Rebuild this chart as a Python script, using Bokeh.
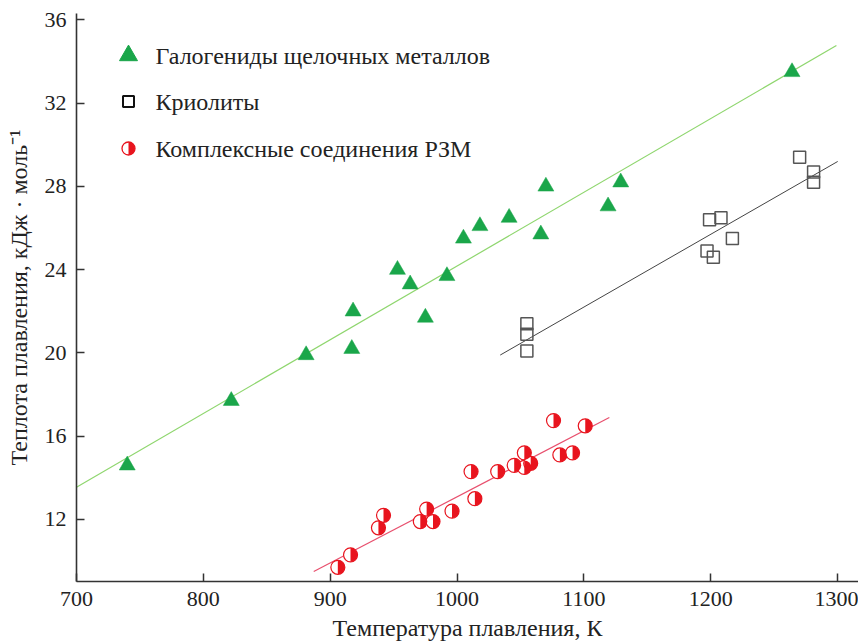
import math
from bokeh.plotting import figure
from bokeh.models import Range1d, FixedTicker
from bokeh.core.properties import value
from bokeh.embed import file_html
from bokeh.resources import INLINE

# ---- data ----
hal_x = [740, 822, 881, 917, 918, 953, 963, 975, 992, 1005, 1018, 1041, 1066, 1070, 1119, 1129, 1264]
hal_y = [14.6, 17.7, 19.9, 20.2, 22.0, 24.0, 23.3, 21.7, 23.7, 25.5, 26.1, 26.5, 25.7, 28.0, 27.05, 28.2, 33.5]

cry_x = [1055, 1055, 1055, 1197, 1199, 1202, 1208, 1217, 1270, 1281, 1281]
cry_y = [21.4, 20.9, 20.1, 24.9, 26.4, 24.6, 26.5, 25.5, 29.4, 28.7, 28.2]

ree_x = [906, 916, 938, 942, 971, 976, 981, 996, 1011, 1014, 1032, 1045, 1053, 1053, 1058, 1076, 1081, 1091, 1101]
ree_y = [9.7, 10.3, 11.6, 12.2, 11.9, 12.5, 11.9, 12.4, 14.3, 13.0, 14.3, 14.6, 15.2, 14.5, 14.7, 16.75, 15.1, 15.2, 16.5]

hal_fit_x = [700, 1299]
hal_fit_y = [13.55, 34.77]
cry_fit_x = [1034, 1300]
cry_fit_y = [19.9, 29.2]
ree_fit_x = [887, 1120]
ree_fit_y = [9.5, 16.9]

x_ticks = [700, 800, 900, 1000, 1100, 1200, 1300]
y_ticks = [12, 16, 20, 24, 28, 32, 36]

legend_labels = ["Галогениды щелочных металлов", "Криолиты", "Комплексные соединения РЗМ"]

x_title = "Температура плавления, К"
y_title = "Теплота плавления, кДж · моль⁻¹"

# ---- styling ----
FONT = "Liberation Serif"
GREEN = "#1aa64a"
GREEN_LINE = "#8fd66e"
RED = "#e8141e"
RED_LINE = "#e8506e"
SQ = "#555555"

FW, FH = 782, 568

p = figure(frame_width=FW, frame_height=FH,
           x_range=Range1d(700, 1316.4), y_range=Range1d(9.02, 36.31),
           output_backend="svg", toolbar_location=None,
           min_border_left=76, min_border_right=0, min_border_top=13, min_border_bottom=63)
p.outline_line_color = None
p.grid.grid_line_color = None
p.background_fill_color = "white"
p.border_fill_color = "white"

for ax in (p.xaxis[0], p.yaxis[0]):
    ax.minor_tick_line_color = None
    ax.major_tick_in = 8
    ax.major_tick_out = 0
    ax.axis_line_width = 1.6
    ax.axis_line_color = "#333333"
    ax.major_tick_line_width = 1.5
    ax.major_tick_line_color = "#333333"
    ax.major_label_text_font = FONT
    ax.major_label_text_font_size = "22px"
    ax.major_label_text_color = "#222222"
    ax.axis_label_text_font = FONT
    ax.axis_label_text_font_size = "24px"
    ax.axis_label_text_font_style = "normal"
    ax.axis_label_text_color = "#222222"

p.xaxis.ticker = FixedTicker(ticks=x_ticks)
p.yaxis.ticker = FixedTicker(ticks=y_ticks)
p.xaxis.major_label_standoff = 10
p.yaxis.major_label_standoff = 10
p.xaxis.axis_label = x_title
p.yaxis.axis_label = y_title
p.xaxis.axis_label_standoff = 6
p.yaxis.axis_label_standoff = 10

# fit lines
p.line(hal_fit_x, hal_fit_y, line_color=GREEN_LINE, line_width=1.2)
p.line(cry_fit_x, cry_fit_y, line_color="#444444", line_width=1.0)
p.line(ree_fit_x, ree_fit_y, line_color=RED_LINE, line_width=1.2)

# points
p.scatter(hal_x, hal_y, marker="triangle", size=16, fill_color=GREEN, line_color=GREEN, line_width=0.5)
p.scatter(cry_x, cry_y, marker="square", size=12, fill_color=None, line_color=SQ, line_width=1.5)
p.scatter(ree_x, ree_y, marker="circle", size=14, fill_color="white", line_color=RED, line_width=1.2)
p.wedge(ree_x, ree_y, radius=7, radius_units="screen", start_angle=-math.pi / 2, end_angle=math.pi / 2,
        direction="anticlock", fill_color=RED, line_color=None)

# legend drawn in frame pixel coordinates
p.extra_x_ranges = {"px": Range1d(0, FW)}
p.extra_y_ranges = {"py": Range1d(0, FH)}
leg_mx = [52, 52, 52]
leg_my = [FH - 42, FH - 88, FH - 135]
leg_tx = [79, 79, 79]

p.scatter(leg_mx[0:1], leg_my[0:1], marker="triangle", size=18, fill_color=GREEN, line_color=GREEN,
          x_range_name="px", y_range_name="py")
p.scatter(leg_mx[1:2], leg_my[1:2], marker="square", size=11, fill_color=None, line_color="#111111",
          line_width=2, x_range_name="px", y_range_name="py")
p.scatter(leg_mx[2:3], leg_my[2:3], marker="circle", size=13, fill_color="white", line_color=RED,
          line_width=1.3, x_range_name="px", y_range_name="py")
p.wedge(leg_mx[2:3], leg_my[2:3], radius=6.5, radius_units="screen", start_angle=-math.pi / 2,
        end_angle=math.pi / 2, direction="anticlock", fill_color=RED, line_color=None,
        x_range_name="px", y_range_name="py")
p.text(leg_tx, leg_my, text=legend_labels, text_font=value(FONT), text_font_size="24px",
       text_color="#222222", text_align="left", text_baseline="middle",
       x_range_name="px", y_range_name="py")

open("out.html", "w").write(file_html(p, INLINE))
